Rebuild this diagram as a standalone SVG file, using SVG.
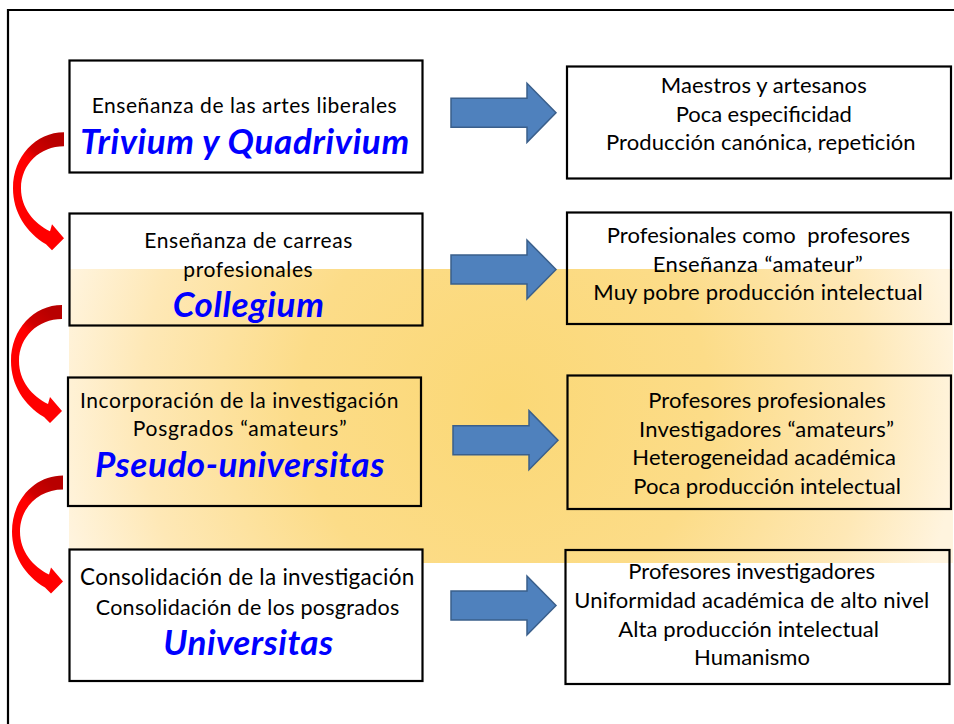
<svg xmlns="http://www.w3.org/2000/svg" xmlns:xlink="http://www.w3.org/1999/xlink" width="954" height="724" viewBox="0 0 954 724">
<defs>
<radialGradient id="band" gradientUnits="userSpaceOnUse" cx="505" cy="405" r="455">
<stop offset="0" stop-color="#FBD876"/>
<stop offset="0.45" stop-color="#FCDC88"/>
<stop offset="0.8" stop-color="#FEE8B6"/>
<stop offset="1" stop-color="#FFF4DE"/>
</radialGradient>
<linearGradient id="red" x1="0.6" y1="0" x2="0.4" y2="0.5">
<stop offset="0" stop-color="#B80000"/>
<stop offset="0.4" stop-color="#D00000"/>
<stop offset="0.6" stop-color="#FF0000"/>
<stop offset="1" stop-color="#FF0000"/>
</linearGradient>
<path id="curved" d="M0,0 C-28,0 -51,24 -51,56 C-51,80 -38,100 -18,112 L-12,118 L0,106 L-12,92 L-14,99 C-30,91 -43,76 -43,56 C-43,32 -24,14 0,14 Z"/>
<path id="blue" d="M0,15 H76 V0 L105,29.5 L76,59 V44 H0 Z"/>
</defs>
<style>
.box{fill:none;stroke:#000;stroke-width:2.2}
.t{font-family:Lato,"Liberation Sans",sans-serif;font-size:21px;fill:#000;text-anchor:middle}
.r{font-size:22px}
.h{font-weight:bold;font-style:italic;font-size:35px;fill:#0000FF}
.ba{fill:#4F81BD;stroke:#3A5F8B;stroke-width:1.5}
.ca{fill:url(#red)}
</style>
<rect x="0" y="0" width="954" height="724" fill="#FFFFFF"/>
<path d="M8,724 V10 H954" fill="none" stroke="#000" stroke-width="2.2"/>
<rect id="band-bg" x="69" y="269" width="884" height="294" fill="url(#band)"/>

<g id="connectors">
<use xlink:href="#blue" class="ba" x="451" y="83.3"/>
<use xlink:href="#blue" class="ba" x="451" y="240"/>
<use xlink:href="#blue" class="ba" x="453" y="410.7"/>
<use xlink:href="#blue" class="ba" x="451" y="576"/>
<use xlink:href="#curved" class="ca" x="64" y="132.3"/>
<use xlink:href="#curved" class="ca" x="62" y="305"/>
<use xlink:href="#curved" class="ca" x="63" y="475.5"/>
</g>

<g id="node-l1">
<rect class="box" x="69.5" y="60.5" width="353" height="112"/>
<text class="t" x="244.2" y="113.3" textLength="305">Enseñanza de las artes liberales</text>
<text class="t h" x="244.7" y="154" textLength="329">Trivium y Quadrivium</text>
</g>
<g id="node-l2">
<rect class="box" x="69.5" y="213.5" width="353" height="112"/>
<text class="t" x="248.3" y="248.3" textLength="208">Enseñanza de carreas</text>
<text class="t" x="248" y="276.7" textLength="129.4">profesionales</text>
<text class="t h" x="248.3" y="316.7" textLength="151.3">Collegium</text>
</g>
<g id="node-l3">
<rect class="box" x="68" y="377.5" width="353" height="128.5"/>
<text class="t" x="239.2" y="408.3" textLength="318.3">Incorporación de la investigación</text>
<text class="t" x="239.7" y="436" textLength="214">Posgrados “amateurs”</text>
<text class="t h" x="239.7" y="476.7" textLength="289.3">Pseudo-universitas</text>
</g>
<g id="node-l4">
<rect class="box" x="69.5" y="549.5" width="353" height="131.5" style="fill:#FFFFFF"/>
<text class="t" x="247.2" y="585" textLength="334.3" style="font-size:22.5px">Consolidación de la investigación</text>
<text class="t" x="247.5" y="615" textLength="303.6" style="font-size:21.5px">Consolidación de los posgrados</text>
<text class="t h" x="248.3" y="655" textLength="170">Universitas</text>
</g>

<g id="node-r1">
<rect class="box" x="567" y="66.5" width="384" height="112"/>
<text class="t r" x="763.7" y="93.3" textLength="206">Maestros y artesanos</text>
<text class="t r" x="763.8" y="121.7" textLength="176.3">Poca especificidad</text>
<text class="t r" x="760.8" y="150" textLength="309.7">Producción canónica, repetición</text>
</g>
<g id="node-r2">
<rect class="box" x="567" y="212.5" width="384" height="111.5"/>
<text class="t r" x="758.3" y="243.3" textLength="303.3">Profesionales como&#160; profesores</text>
<text class="t r" x="757.7" y="271.7" textLength="210">Enseñanza “amateur”</text>
<text class="t r" x="758" y="300" textLength="329.4">Muy pobre producción intelectual</text>
</g>
<g id="node-r3">
<rect class="box" x="567.5" y="375.5" width="383.5" height="133.5"/>
<text class="t r" x="767" y="408.3" textLength="237.4">Profesores profesionales</text>
<text class="t r" x="766.5" y="436.7" textLength="255">Investigadores “amateurs”</text>
<text class="t r" x="764.2" y="465" textLength="263.7">Heterogeneidad académica</text>
<text class="t r" x="767.2" y="494" textLength="267.7">Poca producción intelectual</text>
</g>
<g id="node-r4">
<rect class="box" x="565.5" y="550" width="384" height="134"/>
<text class="t r" x="751.7" y="579.3" textLength="246.7">Profesores investigadores</text>
<text class="t r" x="751.8" y="608.3" textLength="355">Uniformidad académica de alto nivel</text>
<text class="t r" x="748.7" y="636.7" textLength="260.7">Alta producción intelectual</text>
<text class="t r" x="752" y="665" textLength="116">Humanismo</text>
</g>
</svg>
